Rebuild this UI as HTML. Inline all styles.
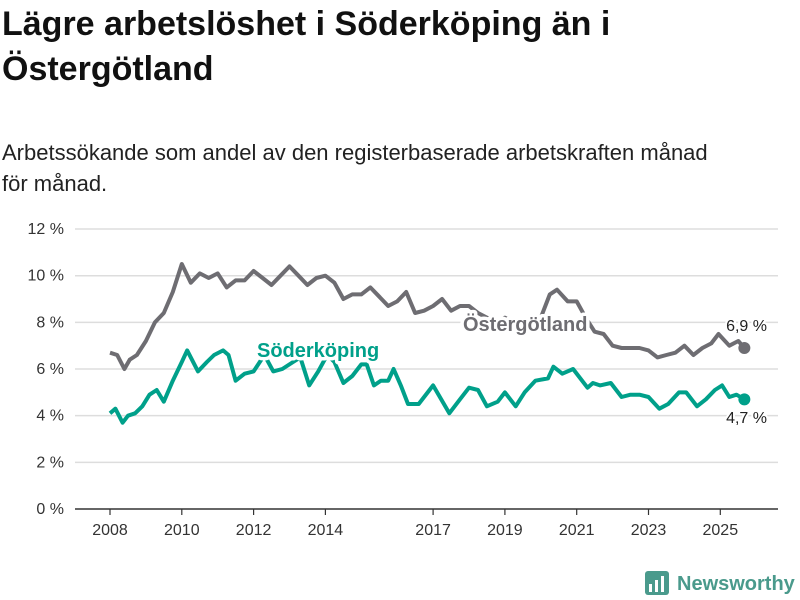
<!DOCTYPE html>
<html><head><meta charset="utf-8"><style>
body{margin:0;width:800px;height:600px;background:#fff;font-family:"Liberation Sans",sans-serif;overflow:hidden;position:relative}
h1{position:absolute;left:2px;top:2px;margin:0;font-size:34px;line-height:45px;font-weight:bold;color:#111;width:660px}
p.sub{position:absolute;left:2px;top:137px;margin:0;font-size:22px;line-height:31px;color:#222;width:720px}
svg{position:absolute;left:0;top:0}
</style></head><body>
<h1>Lägre arbetslöshet i Söderköping än i Östergötland</h1>
<p class="sub">Arbetssökande som andel av den registerbaserade arbetskraften månad för månad.</p>
<svg id="chart" width="800" height="600"></svg>
<script>
const yTicks=[0,2,4,6,8,10,12];
const yTickLabels=["0 %","2 %","4 %","6 %","8 %","10 %","12 %"];
const xTicks=[2008,2010,2012,2014,2017,2019,2021,2023,2025];
const oDates=[2008.0,2008.2,2008.4,2008.55,2008.75,2009.0,2009.25,2009.5,2009.75,2010.0,2010.25,2010.5,2010.75,2011.0,2011.25,2011.5,2011.75,2012.0,2012.25,2012.5,2012.75,2013.0,2013.25,2013.5,2013.75,2014.0,2014.25,2014.5,2014.75,2015.0,2015.25,2015.5,2015.75,2016.0,2016.25,2016.5,2016.75,2017.0,2017.25,2017.5,2017.75,2018.0,2018.25,2018.5,2018.75,2019.0,2019.25,2019.5,2019.75,2020.0,2020.25,2020.45,2020.75,2021.0,2021.25,2021.5,2021.75,2022.0,2022.25,2022.5,2022.75,2023.0,2023.25,2023.5,2023.75,2024.0,2024.25,2024.5,2024.75,2024.95,2025.25,2025.5,2025.67];
const oValues=[6.7,6.6,6.0,6.4,6.6,7.2,8.0,8.4,9.3,10.5,9.7,10.1,9.9,10.1,9.5,9.8,9.8,10.2,9.9,9.6,10.0,10.4,10.0,9.6,9.9,10.0,9.7,9.0,9.2,9.2,9.5,9.1,8.7,8.9,9.3,8.4,8.5,8.7,9.0,8.5,8.7,8.7,8.4,8.2,8.0,8.2,8.0,7.9,8.1,8.2,9.2,9.4,8.9,8.9,8.2,7.6,7.5,7.0,6.9,6.9,6.9,6.8,6.5,6.6,6.7,7.0,6.6,6.9,7.1,7.5,7.0,7.2,6.9];
const sDates=[2008.0,2008.15,2008.35,2008.5,2008.7,2008.9,2009.1,2009.3,2009.5,2009.75,2010.0,2010.15,2010.45,2010.7,2010.9,2011.15,2011.3,2011.5,2011.75,2012.0,2012.3,2012.55,2012.8,2013.1,2013.3,2013.55,2013.8,2014.05,2014.25,2014.5,2014.75,2015.0,2015.15,2015.35,2015.55,2015.75,2015.9,2016.1,2016.3,2016.6,2017.0,2017.45,2017.75,2018.0,2018.25,2018.5,2018.8,2019.0,2019.3,2019.55,2019.85,2020.2,2020.35,2020.6,2020.9,2021.3,2021.45,2021.65,2021.95,2022.25,2022.5,2022.75,2023.0,2023.3,2023.55,2023.85,2024.05,2024.35,2024.6,2024.85,2025.05,2025.25,2025.45,2025.67];
const sValues=[4.1,4.3,3.7,4.0,4.1,4.4,4.9,5.1,4.6,5.5,6.3,6.8,5.9,6.3,6.6,6.8,6.6,5.5,5.8,5.9,6.6,5.9,6.0,6.3,6.5,5.3,5.9,6.6,6.3,5.4,5.7,6.2,6.2,5.3,5.5,5.5,6.0,5.3,4.5,4.5,5.3,4.1,4.7,5.2,5.1,4.4,4.6,5.0,4.4,5.0,5.5,5.6,6.1,5.8,6.0,5.2,5.4,5.3,5.4,4.8,4.9,4.9,4.8,4.3,4.5,5.0,5.0,4.4,4.7,5.1,5.3,4.8,4.9,4.7];
const NS="http://www.w3.org/2000/svg";
const svg=document.getElementById('chart');
const X=t=>110+(t-2008)*35.9;
const Y=v=>509-v*23.33;
function el(tag,attrs,parent){const e=document.createElementNS(NS,tag);for(const k in attrs)e.setAttribute(k,attrs[k]);(parent||svg).appendChild(e);return e;}
yTicks.forEach((v,i)=>{
  const g=el('line',{x1:75,x2:778,y1:Y(v),y2:Y(v),stroke:v===0?'#333':'#ddd','stroke-width':1.5});
  
  
  const t=el('text',{x:64,y:Y(v)+5,'text-anchor':'end','font-size':16,fill:'#333'});
  t.textContent=yTickLabels[i];
  
  
});
xTicks.forEach(yr=>{
  const tk=el('line',{x1:X(yr),x2:X(yr),y1:509,y2:515,stroke:'#333','stroke-width':1.2});
  
  
  const t=el('text',{x:X(yr),y:535,'text-anchor':'middle','font-size':16,fill:'#333'});
  t.textContent=yr;
  
  
});
function line(d,v,color,name){
  const p=el('path',{d:d.map((t,i)=>(i?'L':'M')+X(t).toFixed(1)+','+Y(v[i]).toFixed(1)).join(''),fill:'none',stroke:color,'stroke-width':4,'stroke-linejoin':'round'});
  
  
  const c=el('circle',{cx:X(d[d.length-1]),cy:Y(v[v.length-1]),r:6,fill:color});
  
  
}
line(oDates,oValues,'#6e6d72','ostergotland-line');
line(sDates,sValues,'#00a08a','soderkoping-line');
function label(x,y,txt,color,name,size,bold,anchor){
  const t=el('text',{x:x,y:y,'font-size':size,'font-weight':bold?'bold':'normal',fill:color,stroke:'#fff','stroke-width':bold?7:4,'paint-order':'stroke','text-anchor':anchor||'start','stroke-linejoin':'round'});
  t.textContent=txt;
  
  
}
label(463,331,'Östergötland','#6e6d72','ostergotland-label',20,true);
label(257,357,'Söderköping','#00a08a','soderkoping-label',20,true);
label(767,331,'6,9 %','#222','ostergotland-end-value',16,false,'end');
label(767,423,'4,7 %','#222','soderkoping-end-value',16,false,'end');
</script>
<svg width="800" height="600" style="pointer-events:none">
<rect x="645" y="571" width="24" height="24" rx="3" fill="#4a9a8c"/>
<rect x="649" y="584" width="3" height="8" fill="#fff"/><rect x="655" y="580" width="3" height="12" fill="#fff"/><rect x="661" y="576" width="3" height="16" fill="#fff"/>
<text x="677" y="590" font-size="20" font-weight="bold" fill="#4a9a8c" font-family="Liberation Sans, sans-serif">Newsworthy</text>
</svg>
</body></html>
